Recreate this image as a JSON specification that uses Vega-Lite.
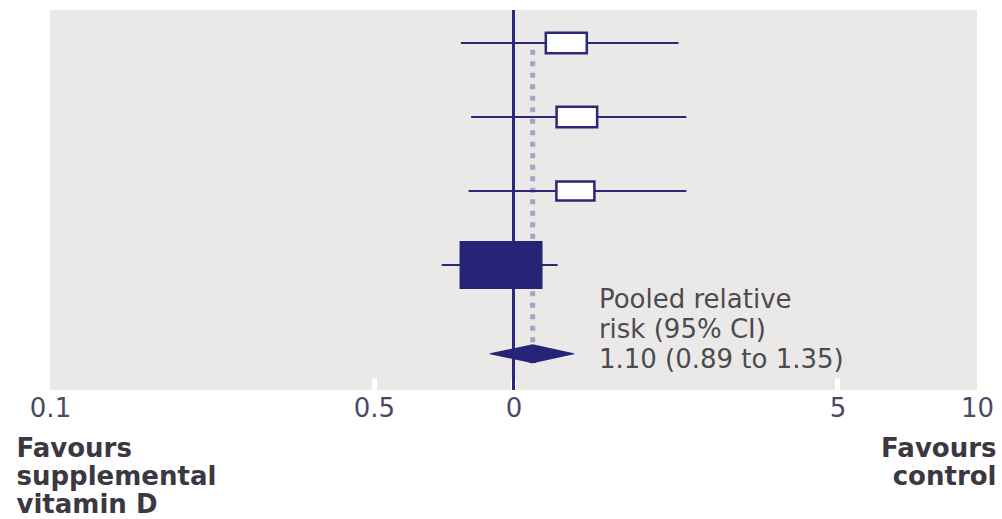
{
  "$schema": "https://vega.github.io/schema/vega-lite/v6.json",
  "width": 927,
  "height": 380,
  "autosize": "none",
  "padding": {"left": 50, "top": 10, "right": 25, "bottom": 129},
  "background": "white",
  "config": {"view": {"stroke": null, "fill": "#EBE9E7"}, "font": "DejaVu Sans"},
  "data": {"values": [
    {"study": "Trial 1", "row": 1, "rr": 1.30, "lo": 0.77, "hi": 2.27, "weight": 14.4, "type": "open"},
    {"study": "Trial 2", "row": 2, "rr": 1.37, "lo": 0.81, "hi": 2.36, "weight": 14.1, "type": "open"},
    {"study": "Trial 3", "row": 3, "rr": 1.36, "lo": 0.80, "hi": 2.36, "weight": 12.4, "type": "open"},
    {"study": "Trial 4", "row": 4, "rr": 0.94, "lo": 0.70, "hi": 1.245, "weight": 59.1, "type": "filled"},
    {"study": "Pooled", "row": 5.2, "rr": 1.10, "lo": 0.89, "hi": 1.35, "weight": 100, "type": "pooled"}
  ]},
  "resolve": {"scale": {"size": "independent"}, "axis": {"x": "independent"}},
  "layer": [
    {
      "transform": [{"filter": "datum.type == 'pooled'"}],
      "mark": {"type": "rule", "color": "#A5A4C6", "strokeWidth": 5, "strokeDash": [5, 6.5]},
      "encoding": {
        "x": {"field": "rr", "type": "quantitative", "scale": {"type": "log", "domain": [0.1, 10], "nice": false},
          "axis": {"orient": "bottom", "labels": false, "ticks": false, "domain": false, "grid": false,
            "title": ["Favours", "control"], "titleFont": "DejaVu Sans", "titleFontSize": 26, "titleFontWeight": "bold",
            "titleColor": "#3b3842", "titleLineHeight": 28, "titleAnchor": "end", "titleAlign": "right",
            "titleBaseline": "top", "titleX": 946, "titleY": 45}},
        "y": {"field": "row", "type": "quantitative", "scale": {"domain": [0.554, 5.689], "reverse": true, "nice": false, "zero": false}, "axis": null},
        "y2": {"datum": 1.05}
      }
    },
    {
      "mark": {"type": "rule", "color": "#2a2878", "strokeWidth": 3},
      "encoding": {
        "x": {"datum": 1, "type": "quantitative", "axis": null}
      }
    },
    {
      "transform": [{"filter": "datum.type != 'pooled'"}],
      "mark": {"type": "rule", "color": "#2a2878", "strokeWidth": 2},
      "encoding": {
        "x": {"field": "lo", "type": "quantitative", "scale": {"type": "log", "domain": [0.1, 10], "nice": false},
          "axis": {"orient": "bottom", "values": [0.1, 0.5, 1, 5, 10],
            "labelExpr": "datum.value == 1 ? '0' : format(datum.value, '~g')",
            "domain": false, "grid": false, "ticks": true, "tickSize": -12,
            "tickColor": {"condition": {"test": "datum.value < 0.2 || datum.value > 8", "value": "transparent"}, "value": "white"},
            "tickWidth": 5,
            "labelFont": "DejaVu Sans", "labelFontSize": 26, "labelColor": "#4a4a66", "labelPadding": 17,
            "labelFlush": false, "labelOverlap": false,
            "title": ["Favours", "supplemental", "vitamin D"], "titleFont": "DejaVu Sans", "titleFontSize": 26,
            "titleFontWeight": "bold", "titleColor": "#3b3842", "titleLineHeight": 28, "titleAnchor": "start",
            "titleAlign": "left", "titleBaseline": "top", "titleX": -34, "titleY": 45}},
        "x2": {"field": "hi"},
        "y": {"field": "row", "type": "quantitative", "scale": {"domain": [0.554, 5.689], "reverse": true, "nice": false, "zero": false}, "axis": null}
      }
    },
    {
      "transform": [{"filter": "datum.type == 'open'"}],
      "mark": {"type": "point", "shape": "M-1,-0.5L1,-0.5L1,0.5L-1,0.5Z", "filled": true, "color": "#2a2878",
        "fill": "white", "stroke": "#2a2878", "strokeWidth": 2.5, "opacity": 1},
      "encoding": {
        "x": {"field": "rr", "type": "quantitative", "axis": null},
        "y": {"field": "row", "type": "quantitative", "axis": null},
        "size": {"field": "weight", "type": "quantitative", "scale": {"type": "linear", "domain": [0, 100], "range": [0, 11654]}, "legend": null}
      }
    },
    {
      "transform": [{"filter": "datum.type == 'filled'"}],
      "mark": {"type": "point", "shape": "M-1,-0.58L1,-0.58L1,0.58L-1,0.58Z", "filled": true, "color": "#262476", "opacity": 1},
      "encoding": {
        "x": {"field": "rr", "type": "quantitative", "axis": null},
        "y": {"field": "row", "type": "quantitative", "axis": null},
        "size": {"field": "weight", "type": "quantitative", "scale": {"type": "linear", "domain": [0, 100], "range": [0, 11654]}, "legend": null}
      }
    },
    {
      "transform": [{"filter": "datum.type == 'pooled'"}, {"fold": ["lo", "rr", "hi"], "as": ["key", "value"]}],
      "mark": {"type": "trail", "color": "#262476"},
      "encoding": {
        "x": {"field": "value", "type": "quantitative", "axis": null},
        "y": {"field": "row", "type": "quantitative", "axis": null},
        "order": {"field": "value", "type": "quantitative"},
        "size": {"condition": {"test": "datum.key == 'rr'", "value": 19}, "value": 0}
      }
    },
    {
      "transform": [{"filter": "datum.type == 'pooled'"}],
      "mark": {"type": "text", "align": "left", "baseline": "alphabetic", "dx": 25, "dy": -46, "fontSize": 26,
        "lineHeight": 30, "color": "#4d4b4f", "font": "DejaVu Sans"},
      "encoding": {
        "x": {"field": "hi", "type": "quantitative", "axis": null},
        "y": {"field": "row", "type": "quantitative", "axis": null},
        "text": {"value": ["Pooled relative", "risk (95% CI)", "1.10 (0.89 to 1.35)"]}
      }
    }
  ]
}
